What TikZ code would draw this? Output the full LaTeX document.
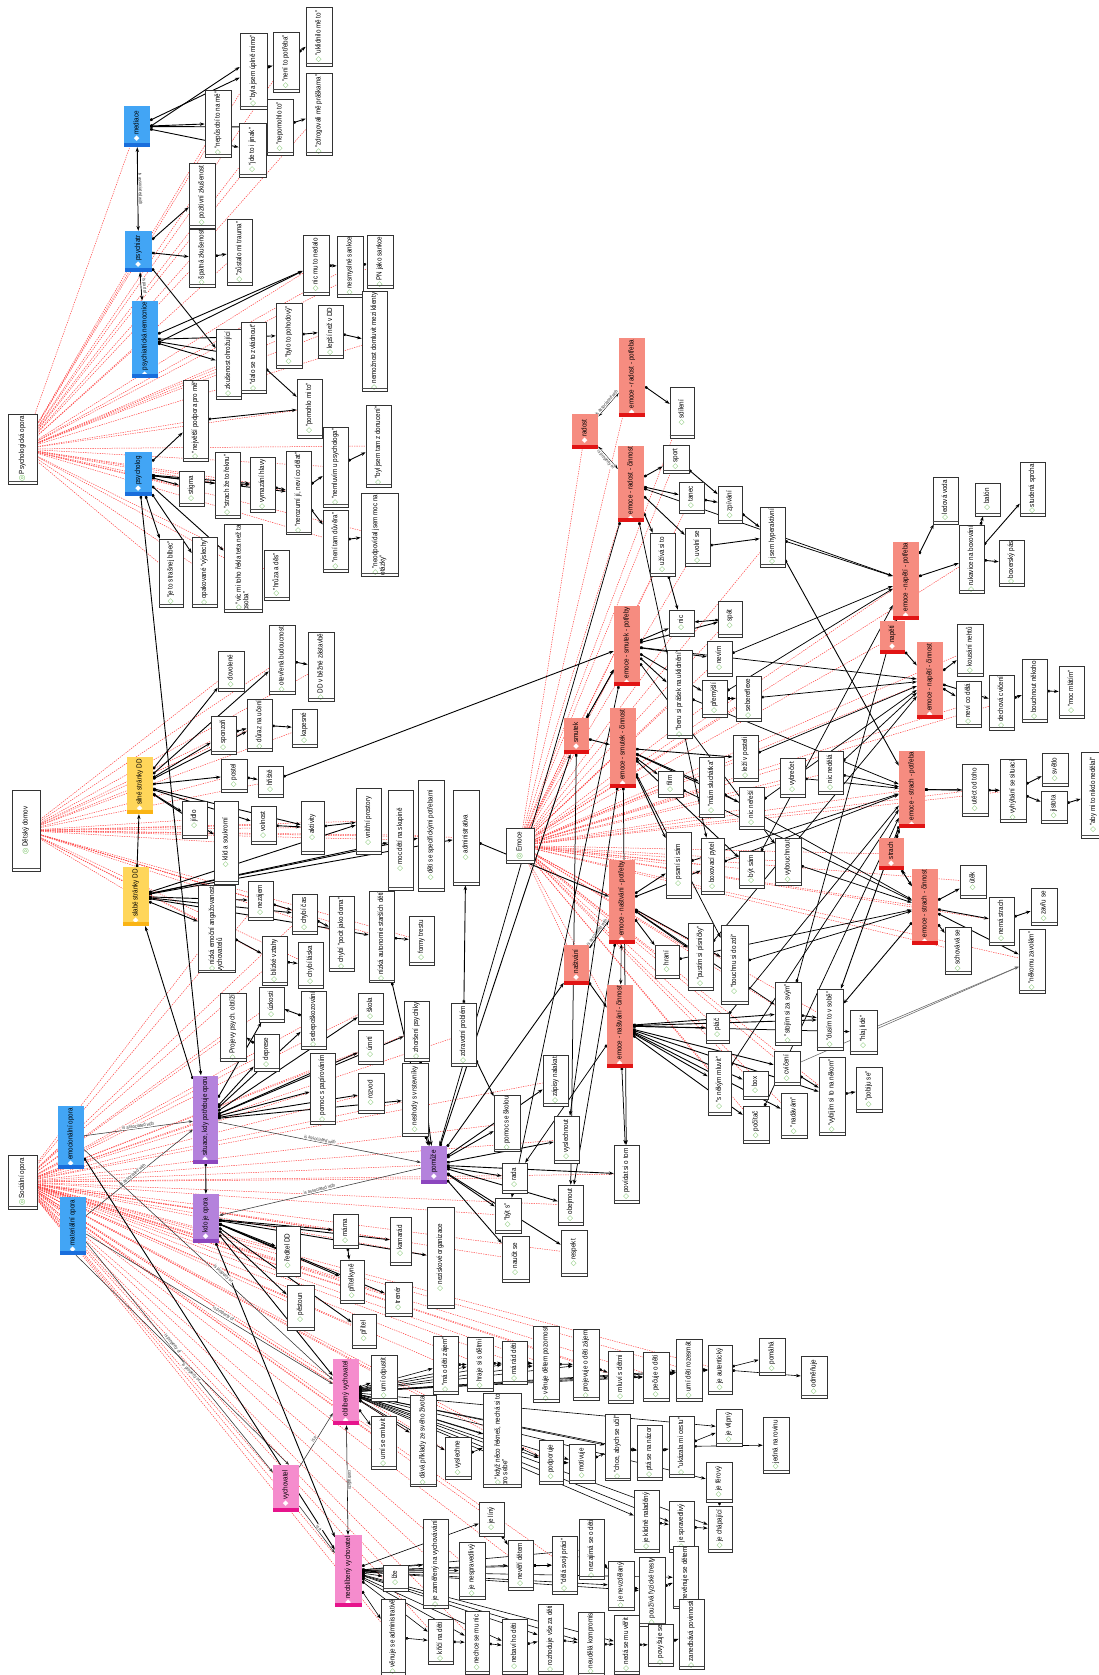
\documentclass[tikz,border=0pt]{standalone}
\usepackage{fontspec}
\setmainfont{Liberation Sans}[FakeStretch=0.85]
\newfontfamily\djv{DejaVu Sans}
\usepackage{graphicx}
\usetikzlibrary{arrows.meta}
\definecolor{dg}{RGB}{110,190,90}
\definecolor{bluF}{RGB}{66,165,245}
\definecolor{bluD}{RGB}{25,110,220}
\definecolor{yelF}{RGB}{255,214,90}
\definecolor{yelD}{RGB}{250,180,20}
\definecolor{redF}{RGB}{246,140,128}
\definecolor{redD}{RGB}{225,20,20}
\definecolor{purF}{RGB}{180,130,220}
\definecolor{purD}{RGB}{140,70,190}
\definecolor{pnkF}{RGB}{245,140,205}
\definecolor{pnkD}{RGB}{230,20,140}
\pgfdeclarelayer{back}\pgfdeclarelayer{bg}\pgfsetlayers{back,bg,main}
\renewcommand\arraystretch{0.85}
\newcommand\R[1]{\rotatebox{90}{\begin{tabular}{@{}l@{}}#1\end{tabular}}}
\newcommand\dia{{\djv\textcolor{dg}{◇}}}
\newcommand\wdia{{\djv\textcolor{white}{◆}}}
\newcommand\fdia{{\djv\textcolor{dg}{◎}}}
\newcommand\cb[6]{\node[cbx,minimum width={(#4-#2)*1pt},minimum height={(#5-#3)*1pt}] (#1) at ({(#2+#4)/2},{(#3+#5)/2}) {\R{\dia\,#6}};
  \draw[black!70,line width=0.4pt] ([yshift=3pt]#1.south west) -- ([yshift=3pt]#1.south east);}
\newcommand\fb[6]{\node[cbx,minimum width={(#4-#2)*1pt},minimum height={(#5-#3)*1pt}] (#1) at ({(#2+#4)/2},{(#3+#5)/2}) {\R{\fdia\,#6}};
  \draw[black!70,line width=0.4pt] ([yshift=3pt]#1.south west) -- ([yshift=3pt]#1.south east);}
\newcommand\kb[7]{\node[kbx,fill=#6F,minimum width={(#4-#2)*1pt},minimum height={(#5-#3)*1pt}] (#1) at ({(#2+#4)/2},{(#3+#5)/2}) {\R{\wdia\,#7}};
  \fill[#6D] (#1.south west) rectangle ([yshift=4pt]#1.south east);}
\begin{document}
\begin{tikzpicture}[x=1pt,y=-1pt,
  cbx/.style={draw=black!80,fill=white,line width=0.55pt,inner sep=1pt,font=\fontsize{7.4}{8.2}\selectfont},
  kbx/.style={draw=none,inner sep=1pt,font=\fontsize{7.4}{8.2}\selectfont},
  lk/.style={line width=0.9pt,{Square[length=2.4pt]}-{Stealth[length=4.8pt,width=3.4pt]}},
  bl/.style={line width=0.9pt,{Stealth[length=4.8pt,width=3.4pt]}-{Stealth[length=4.8pt,width=3.4pt]}},
  tl/.style={line width=0.55pt,black!80,-{Stealth[length=4pt,width=3pt]}},
  fam/.style={draw=red!75,line width=0.5pt,dash pattern=on 1.3pt off 1.1pt},
  lbl/.style={font=\fontsize{4.8}{5}\selectfont,sloped,inner sep=0.6pt,fill=white,text=black!80}]
\useasboundingbox (0,0) rectangle (1098,1675);
\begin{pgfonlayer}{back}
\fill[white] (0,0) rectangle (1098,1675);
\end{pgfonlayer}
% ---------- families
\fb{psyop}{8}{414}{37}{484}{Psychologická opora}
\fb{dd}{12}{790}{40}{871}{Dětský domov}
\fb{soc}{8}{1155}{37}{1209}{Sociální opora}
\fb{emo}{506}{828}{534}{863}{Emoce}
% ---------- blue
\kb{med}{124}{106}{150}{147}{blu}{mediace}
\kb{psy}{125}{231}{152}{272}{blu}{psychiatr}
\kb{pn}{132}{301}{158}{378}{blu}{psychiatrická nemocnice}
\kb{plog}{125}{452}{152}{496}{blu}{psycholog}
\kb{emop}{58}{1106}{84}{1169}{blu}{emocionální opora}
\kb{matop}{60}{1197}{86}{1255}{blu}{materiální opora}
% ---------- yellow
\kb{sil}{127}{757}{153}{814}{yel}{silné stránky DD}
\kb{sla}{123}{867}{149}{926}{yel}{slabé stránky DD}
% ---------- purple
\kb{sit}{193}{1076}{218}{1163}{pur}{situace, kdy potřebuje oporu}
\kb{kdo}{193}{1194}{219}{1243}{pur}{kdo je opora}
\kb{pom}{421}{1146}{447}{1184}{pur}{pomůže}
% ---------- pink
\kb{vych}{273}{1465}{299}{1512}{pnk}{vychovatel}
\kb{obl}{333}{1359}{359}{1425}{pnk}{oblíbený vychovatel}
\kb{neo}{335}{1535}{362}{1607}{pnk}{neoblíbený vychovatel}
% ---------- red
\kb{rad}{572}{414}{598}{449}{red}{radost}
\kb{rpot}{619}{338}{645}{417}{red}{emoce - radost - potřeba}
\kb{rcin}{618}{446}{644}{522}{red}{emoce - radost - činnost}
\kb{smu}{564}{718}{589}{754}{red}{smutek}
\kb{spot}{614}{606}{640}{686}{red}{emoce - smutek - potřeby}
\kb{scin}{610}{709}{636}{787}{red}{emoce - smutek - činnost}
\kb{nas}{564}{945}{589}{985}{red}{naštvání}
\kb{npot}{609}{861}{635}{943}{red}{emoce - naštvání - potřeby}
\kb{ncin}{607}{985}{633}{1067}{red}{emoce - naštvání - činnost}
\kb{nap}{880}{621}{905}{654}{red}{napětí}
\kb{tpot}{893}{542}{919}{619}{red}{emoce - napětí - potřeba}
\kb{tcin}{917}{642}{943}{719}{red}{emoce - napětí - činnost}
\kb{str}{879}{838}{904}{870}{red}{strach}
\kb{spo}{899}{751}{925}{828}{red}{emoce - strach - potřeba}
\kb{sci}{912}{869}{938}{945}{red}{emoce - strach - činnost}
% ---------- psych codes
\cb{c1}{205}{90}{231}{157}{"nepůsobí to na mě"}
\cb{c2}{240}{33}{267}{109}{"byla jsem úplně mimo"}
\cb{c3}{273}{32}{299}{92}{"není to potřeba"}
\cb{c4}{306}{7}{332}{66}{"uklidnilo mě to"}
\cb{c5}{239}{123}{266}{177}{"jde to i jinak"}
\cb{c6}{267}{99}{293}{155}{"nepomohlo to"}
\cb{c7}{306}{74}{332}{155}{"zdrogovali mě práškama"}
\cb{c8}{189}{163}{215}{228}{pozitivní zkušenost}
\cb{c9}{189}{229}{215}{287}{špatná zkušenost}
\cb{c10}{227}{219}{252}{285}{"zůstalo mi trauma"}
\cb{c11}{303}{235}{329}{295}{nic mu to nedalo}
\cb{c12}{337}{236}{363}{297}{nesmyslné sankce}
\cb{c13}{367}{237}{393}{287}{PN jako sankce}
\cb{c14}{362}{297}{387}{386}{nemožnost domluvit mezi klienty}
\cb{c15}{216}{329}{241}{399}{zkušenost ohrožující}
\cb{c16}{241}{322}{266}{393}{"dalo se to zvládnout"}
\cb{c17}{276}{303}{302}{368}{"bylo to pohodový"}
\cb{c18}{318}{305}{343}{358}{lepší než v DD}
\cb{c19}{297}{379}{322}{438}{"pomohlo mi to"}
\cb{c20}{183}{380}{208}{461}{"největší podpora pro mě"}
\cb{c21}{366}{405}{391}{487}{"byl jsem tam z donucení"}
\cb{c22}{179}{471}{204}{506}{stigma}
\cb{c23}{215}{452}{240}{518}{"strach že to řeknu"}
\cb{c24}{250}{457}{275}{512}{vymazání hlavy}
\cb{c25}{286}{452}{311}{534}{"nerozumí jí, neví co dělat"}
\cb{c26}{323}{427}{348}{507}{"nemluvím u psychologa"}
\cb{c27}{323}{510}{348}{572}{"není tam důvěra"}
\cb{c28}{361}{494}{398}{576}{"neodpovídal jsem moc na\\otázky"}
\cb{c29}{159}{539}{183}{607}{"je to strašnej blbec"}
\cb{c30}{192}{537}{217}{607}{opakované "výslechy"}
\cb{c31}{224}{525}{262}{611}{"víc mi toho řekla teta než ta\\osoba"}
\cb{c32}{264}{550}{289}{600}{"hrůza a děs"}
% ---------- DD codes
\cb{y1}{218}{651}{244}{691}{dovolené}
\cb{y2}{269}{625}{295}{694}{otevřená budoucnost}
\cb{y3}{308}{633}{334}{701}{DD v běžné zástavbě}
\cb{y4}{211}{716}{236}{754}{sponzoři}
\cb{y5}{247}{699}{272}{751}{důraz na učení}
\cb{y6}{292}{709}{317}{747}{kapesné}
\cb{y7}{221}{759}{247}{792}{postel}
\cb{y8}{258}{766}{283}{797}{hřiště}
\cb{y9}{301}{801}{324}{854}{aktivity}
\cb{y10}{182}{801}{207}{838}{jídlo}
\cb{y11}{214}{801}{238}{884}{klid a soukromí}
\cb{y12}{251}{806}{276}{844}{volnost}
\cb{y13}{198}{888}{235}{970}{nízká emoční angažovanost\\vychovatelů}
\cb{y14}{248}{881}{273}{920}{nezájem}
\cb{y15}{292}{894}{317}{934}{chybí čas}
\cb{y16}{329}{896}{354}{971}{chybí "pocit jako doma"}
\cb{y17}{262}{936}{287}{985}{blízké vztahy}
\cb{y18}{298}{942}{323}{988}{chybí láska}
\cb{y19}{356}{788}{381}{854}{vnitřní prostory}
\cb{y20}{388}{790}{413}{890}{moc dětí na skupině}
\cb{y21}{418}{780}{444}{891}{děti se specifickými potřebami}
\cb{y22}{453}{790}{479}{885}{administrativa}
\cb{y23}{369}{893}{394}{981}{nízká autonomie starších dětí}
\cb{y24}{409}{916}{434}{965}{formy trestu}
% ---------- situace / pomůže
\cb{p1}{220}{995}{246}{1060}{Projevy psych. obtíží}
\cb{p2}{259}{987}{284}{1022}{úzkosti}
\cb{p3}{254}{1034}{279}{1071}{deprese}
\cb{p4}{301}{991}{326}{1049}{sebepoškozování}
\cb{p5}{310}{1053}{335}{1124}{pomoc s papírováním}
\cb{p6}{404}{1001}{429}{1061}{zhoršení psychiky}
\cb{p7}{451}{1003}{476}{1066}{zdravotní problém}
\cb{p8}{358}{1073}{384}{1113}{rozvod}
\cb{p9}{402}{1063}{428}{1136}{neshody s vrstevníky}
\cb{p10}{358}{993}{383}{1024}{škola}
\cb{p11}{358}{1030}{383}{1064}{úmrtí}
\cb{p12}{494}{1096}{520}{1151}{pomoc se školou}
\cb{p13}{554}{1116}{579}{1163}{vyslechnout}
\cb{p14}{543}{1055}{568}{1106}{zápisy nalakat}
\cb{p15}{502}{1163}{527}{1193}{rada}
\cb{p16}{495}{1198}{521}{1233}{"být s"}
\cb{p17}{558}{1185}{583}{1225}{obejmout}
\cb{p18}{614}{1145}{639}{1203}{povídat si o tom}
\cb{p19}{502}{1236}{529}{1282}{naučit se}
\cb{p20}{561}{1230}{587}{1276}{respekt}
% ---------- kdo je opora
\cb{k1}{276}{1226}{300}{1276}{ředitel DD}
\cb{k2}{333}{1214}{358}{1248}{máma}
\cb{k3}{340}{1260}{364}{1303}{přítelkyně}
\cb{k4}{352}{1314}{376}{1348}{přítel}
\cb{k5}{287}{1285}{314}{1330}{pěstoun}
\cb{k6}{390}{1217}{411}{1265}{kamarád}
\cb{k7}{427}{1207}{454}{1308}{neziskové organizace}
\cb{k8}{385}{1282}{412}{1316}{trenér}
% ---------- oblíbený
\cb{o1}{371}{1355}{397}{1401}{umí odpustit}
\cb{o2}{371}{1416}{396}{1469}{umí se omluvit}
\cb{o3}{410}{1397}{436}{1485}{dává příklady ze svého života}
\cb{o4}{433}{1336}{458}{1394}{"má o děti zájem"}
\cb{o5}{467}{1337}{493}{1391}{hraje si s dětmi}
\cb{o6}{502}{1341}{527}{1384}{má rád děti}
\cb{o7}{445}{1437}{471}{1479}{vyslechne}
\cb{o8}{483}{1395}{521}{1485}{"když něco řekneš, nechá si to\\pro sebe"}
\cb{o9}{533}{1326}{559}{1402}{věnuje dětem pozornost}
\cb{o10}{539}{1440}{563}{1484}{podporuje}
\cb{o11}{569}{1444}{595}{1483}{motivuje}
\cb{o12}{573}{1329}{599}{1400}{projevuje o děti zájem}
\cb{o13}{608}{1351}{633}{1403}{mluví s dětmi}
\cb{o14}{605}{1415}{630}{1480}{"chce, abych se učil"}
\cb{o15}{643}{1352}{669}{1401}{pečuje o děti}
\cb{o16}{637}{1425}{662}{1480}{ptá se na názor}
\cb{o17}{676}{1339}{702}{1401}{umí děti rozesmát}
\cb{o18}{669}{1416}{694}{1477}{"ukázala mi cestu"}
\cb{o19}{708}{1345}{732}{1394}{je autentický}
\cb{o20}{716}{1409}{742}{1446}{je vtipný}
\cb{o21}{706}{1462}{732}{1502}{je férový}
\cb{o22}{708}{1506}{732}{1552}{je chápající}
\cb{o23}{634}{1490}{659}{1552}{je klidně naladěný}
\cb{o24}{669}{1501}{694}{1552}{je spravedlivý}
\cb{o25}{759}{1338}{785}{1375}{pomáhá}
\cb{o26}{801}{1356}{827}{1398}{odměňuje}
\cb{o27}{763}{1417}{789}{1473}{jedná na rovinu}
% ---------- neoblíbený
\cb{n1}{383}{1565}{408}{1591}{lže}
\cb{n2}{423}{1524}{448}{1604}{je zaměřený na vychovávání}
\cb{n3}{459}{1542}{485}{1599}{je nespravedlivý}
\cb{n4}{479}{1502}{504}{1536}{je líný}
\cb{n5}{508}{1540}{533}{1590}{nevěří dětem}
\cb{n6}{552}{1536}{577}{1594}{"dělá svoji práci"}
\cb{n7}{579}{1519}{604}{1579}{nezajímá se o děti}
\cb{n8}{608}{1561}{634}{1610}{je nevzdělaný}
\cb{n9}{639}{1558}{665}{1625}{používá fyzické tresty}
\cb{n10}{673}{1555}{698}{1600}{nevěnuje se dětem}
\cb{n11}{679}{1603}{704}{1666}{zanedbává povinnosti}
\cb{n12}{381}{1600}{405}{1674}{věnuje se administrativě}
\cb{n13}{428}{1619}{453}{1664}{křičí na děti}
\cb{n14}{465}{1611}{489}{1674}{nechce se mu nic}
\cb{n15}{502}{1619}{527}{1674}{nebaví ho děti}
\cb{n16}{538}{1604}{563}{1674}{rozhoduje vše za děti}
\cb{n17}{578}{1614}{604}{1674}{neudělá kompromis}
\cb{n18}{614}{1615}{639}{1674}{nedá se mu věřit}
\cb{n19}{648}{1626}{673}{1664}{povyšuje se}
% ---------- emotion codes
\cb{r1}{670}{387}{694}{438}{sdílení}
\cb{r2}{663}{445}{689}{473}{sport}
\cb{r3}{679}{482}{704}{513}{tanec}
\cb{r4}{718}{486}{742}{523}{zpívání}
\cb{r5}{650}{533}{675}{576}{užívá si to}
\cb{r6}{685}{528}{710}{566}{uvolní se}
\cb{r7}{760}{507}{785}{567}{jsem hyperaktivní}
\cb{r8}{669}{610}{694}{636}{nic}
\cb{r9}{718}{601}{742}{637}{spát}
\cb{r10}{707}{641}{732}{676}{nevím}
\cb{r11}{667}{655}{692}{733}{"beru si prášek na uklidnění"}
\cb{r12}{702}{680}{727}{717}{přemýšlí}
\cb{r13}{736}{676}{761}{721}{sebereflexe}
\cb{r14}{658}{771}{683}{797}{film}
\cb{r15}{699}{757}{724}{817}{"mám sluchátka"}
\cb{r16}{733}{735}{758}{781}{leží v posteli}
\cb{r17}{780}{758}{805}{797}{vybrečet}
\cb{r18}{818}{751}{843}{794}{nic nedělá}
\cb{r19}{739}{787}{764}{829}{nic neřeší}
\cb{r20}{666}{832}{691}{898}{psaní si sám}
\cb{r21}{701}{838}{724}{894}{boxovací pytel}
\cb{r22}{739}{851}{764}{888}{být sám}
\cb{r23}{775}{838}{801}{885}{vybouchnout}
\cb{r24}{655}{945}{679}{978}{hraní}
\cb{r25}{688}{923}{713}{990}{"pustím si písničky"}
\cb{r26}{721}{925}{748}{1004}{"bouchnu si do zdi"}
\cb{r27}{706}{1013}{729}{1043}{pláč}
\cb{r28}{708}{1051}{731}{1115}{"s někým mluvit"}
\cb{r29}{775}{982}{801}{1045}{"stojím si za svým"}
\cb{r30}{817}{989}{843}{1050}{"dusím to v sobě"}
\cb{r31}{850}{1010}{877}{1054}{"hlaj lidé"}
\cb{r32}{774}{1051}{800}{1085}{cvičení}
\cb{r33}{743}{1071}{768}{1099}{box}
\cb{r34}{781}{1093}{807}{1138}{"nadávám"}
\cb{r35}{819}{1057}{845}{1135}{"vybíjím si to na někom"}
\cb{r36}{856}{1067}{882}{1112}{"pobiju se"}
\cb{r37}{743}{1106}{769}{1143}{počítač}
\cb{r38}{933}{477}{958}{524}{ledová voda}
\cb{r39}{975}{483}{1000}{516}{balón}
\cb{r40}{1020}{462}{1045}{516}{studená sprcha}
\cb{r41}{959}{525}{984}{593}{rukavice na boxování}
\cb{r42}{999}{540}{1024}{586}{boxerský pás}
\cb{r43}{957}{624}{983}{676}{kousání nehtů}
\cb{r44}{956}{681}{981}{727}{neví co dělá}
\cb{r45}{989}{675}{1014}{730}{dechová cvičení}
\cb{r46}{1022}{659}{1047}{722}{bouchnout někoho}
\cb{r47}{1059}{666}{1084}{718}{"moc mlátím"}
\cb{r48}{962}{764}{988}{816}{utéct od toho}
\cb{r49}{1000}{759}{1026}{822}{vyhýbání se situaci}
\cb{r50}{1042}{753}{1068}{786}{světlo}
\cb{r51}{1041}{791}{1067}{823}{jistota}
\cb{r52}{1081}{752}{1106}{838}{"aby mi to nikdo nedělal"}
\cb{r53}{960}{865}{986}{898}{útěk}
\cb{r54}{989}{897}{1014}{945}{nemá strach}
\cb{r55}{1031}{888}{1057}{925}{zavřu se}
\cb{r56}{945}{927}{971}{974}{schovává se}
\cb{r57}{1019}{929}{1045}{993}{"někomu zavolám"}
% ================= connectors (background)
\begin{pgfonlayer}{bg}
\foreach \t in {med,psy,pn,plog,c1,c2,c3,c5,c6,c7,c8,c9,c10,c11,c12,c13,c14,c15,c16,c17,c18,c19,c20,c21,c22,c23,c24,c25,c26,c27,c28,c29,c30,c31,c32}
  \draw[fam] (psyop) -- (\t);
\foreach \t in {sil,sla,y1,y2,y3,y4,y5,y6,y7,y8,y9,y10,y11,y12,y13,y14,y15,y16,y17,y18,y19,y20,y21,y22,y23,y24}
  \draw[fam] (dd) -- (\t);
\foreach \t in {emop,matop,sit,kdo,pom,vych,obl,neo,p1,p2,p3,p4,p5,p6,p7,p8,p9,p10,p11,p12,p13,p14,p15,p16,p17,p18,p19,p20,k1,k2,k3,k4,k5,k6,k7,k8,o1,o2,o3,o4,o5,o6,o7,o8,o9,o10,o12,o13,o15,o17,o19,n1,n2,n3,n4,n5,n6,n12,n13,n14,y13,y14,y15,y17}
  \draw[fam] (soc) -- (\t);
\foreach \t in {rad,smu,nas,nap,str,rpot,rcin,spot,scin,npot,ncin,tpot,tcin,spo,sci,r1,r2,r3,r5,r6,r8,r9,r10,r11,r12,r14,r15,r20,r21,r24,r25,r26,r27,r28,r29,r30,r32,r33,r34,r35,r37,r41,r43,r44,r45,r48,r49,r53,r54,r56,r57,r7,r13,r16,r17,r18,r19,r22,r23}
  \draw[fam] (emo) -- (\t);
% psych
\foreach \a/\b in {med/c1,med/c2,med/c5,med/c6,c2/c3,c3/c4,c6/c7,psy/c8,psy/c9,c9/c10,psy/c15,pn/c11,pn/c15,pn/c16,pn/c17,c11/c12,c12/c13,c17/c18,c18/c14,c16/c19,plog/c20,plog/c22,plog/c23,plog/c24,plog/c25,plog/c29,plog/c30,plog/c31,c23/c24,c24/c25,c25/c26,c25/c27,c26/c21,c27/c28,c20/c19,plog/sit}
  \draw[lk] (\a) -- (\b);
\draw[lk] (med.east) -- ([yshift=4pt]c2.west);
\draw[lk] ([yshift=-3pt]pn.east) -- ([yshift=-6pt]c11.west);
\draw[bl] (med) -- node[lbl,above] {is associated with} (psy);
\draw[bl] (psy) -- node[lbl,above] {is part of} (pn);
% DD
\foreach \a/\b in {sil/y1,sil/y2,sil/y4,sil/y5,sil/y7,sil/y10,sil/y11,sil/y12,sil/y9,y2/y3,y5/y6,y7/y8,y4/y5,y12/y9,y8/spot,sla/sil,sla/y13,sla/y14,sla/y15,sla/y19,sla/y20,sla/y21,sla/y22,sla/y23,y13/y17,y17/y18,y15/y16,y14/y15,y23/y24,y22/npot,y9/y19}
  \draw[lk] (\a) -- (\b);
% situace / kdo / pomůže
\foreach \a/\b in {sit/kdo,sit/p2,sit/p3,sit/p4,sit/p5,sit/p6,sit/p8,sit/p9,sit/p10,sit/p11,sit/sla,p4/p2,p3/p1,kdo/k1,kdo/k2,kdo/k3,kdo/k4,kdo/k5,kdo/k6,kdo/k7,kdo/k8,kdo/obl,kdo/neo,pom/p12,pom/p15,pom/p16,pom/p17,pom/p18,pom/p19,pom/p13,pom/p14,pom/p20,p7/p12,p7/y22,pom/nas,pom/smu,p6/pom,p9/pom,y23/pom,k2/k3}
  \draw[lk] (\a) -- (\b);
\draw[tl] (emop) -- node[lbl,above] {is associated with} (sit);
\draw[tl] (matop) -- node[lbl,above,pos=0.45] {is associated with} (sit);
\draw[tl] (sit) -- node[lbl,above,pos=0.5] {is associated with} (pom);
\draw[tl] (pom) -- node[lbl,above,pos=0.5] {is associated with} (kdo);
% pink
\draw[tl] (matop) -- node[lbl,above,pos=0.45] {is property of} (vych);
\draw[tl] ([xshift=3pt]matop.south) -- node[lbl,below,pos=0.55] {is property of} ([xshift=3pt]vych.north);
\draw[tl] (matop) -- node[lbl,above,pos=0.55] {is property of} (obl);
\draw[tl] (emop) -- node[lbl,above,pos=0.55] {is property of} (obl);
\draw[lk] (emop) -- (neo);
\draw[tl] (vych) -- node[lbl,above] {is a} (obl);
\draw[tl] (vych) -- node[lbl,above] {is a} (neo);
\draw[bl,line width=0.55pt] (obl) -- node[lbl,above] {contradicts} (neo);
\foreach \t in {o1,o2,o3,o4,o5,o6,o7,o8,o9,o10,o11,o12,o13,o14,o15,o16,o17,o19,o23,o24,o20,o21,o22}
  \draw[lk,line width=0.6pt] (obl) -- (\t);
\foreach \t in {n1,n2,n3,n4,n5,n6,n7,n8,n9,n12,n13,n14,n15,n16,n17,n18,n10}
  \draw[lk,line width=0.6pt] (neo) -- (\t);
\foreach \a/\b in {o4/o5,o5/o6,o6/o9,o9/o12,o12/o13,o13/o15,o15/o17,o17/o19,o19/o25,o19/o26,o18/o27,o7/o8,o8/o10,o10/o11,o11/o14,o14/o16,o16/o18,o18/o20,o23/o24,o24/o22,o21/o22,n4/n5,n5/n6,n6/n7,n7/n8,n8/n9,n9/n10,n12/n13,n13/n14,n14/n15,n15/n16,n16/n17,n17/n18,n18/n19,n19/n11}
  \draw[lk,line width=0.6pt] (\a) -- (\b);
% red
\foreach \a/\b in {rpot/r1,rcin/r2,rcin/r3,rcin/r5,rcin/r6,r3/r4,r2/r4,r4/r7,r7/spo,r5/r8,r6/r7,smu/spot,smu/scin,spot/r8,spot/r9,spot/r10,spot/r11,spot/r12,r9/r8,r12/r13,scin/r14,scin/r15,scin/r16,scin/r19,scin/r20,scin/r22,nas/npot,nas/ncin,npot/r20,npot/r24,npot/r25,npot/r26,npot/r21,ncin/r27,ncin/r28,ncin/r29,ncin/r30,ncin/r32,ncin/r33,ncin/r34,ncin/r35,ncin/r37,r29/r30,r32/r35,r35/r36,nap/tpot,nap/tcin,tpot/r38,tpot/r41,r41/r39,r41/r40,r41/r42,tcin/r43,tcin/r44,tcin/r45,r45/r46,r46/r47,str/spo,str/sci,spo/r48,spo/r49,r49/r50,r49/r51,r51/r52,r48/r49,sci/r53,sci/r54,sci/r56,sci/r57,r54/r55,sci/r30,spo/r30}
  \draw[lk] (\a) -- (\b);
\draw[bl,line width=0.55pt] (rad) -- node[lbl,above] {is associated with} (rpot);
\draw[bl,line width=0.55pt] (rad) -- node[lbl,below] {is property of} (rcin);
\draw[bl,line width=0.55pt] (smu) -- (spot);
\draw[bl,line width=0.55pt] (nas) -- node[lbl,above] {is associated with} (npot);
\draw[bl,line width=0.55pt] (npot) -- (ncin);
\draw[bl,line width=0.55pt] (nap) -- (tpot);
\draw[bl,line width=0.55pt] (str) -- (sci);
% cross links
\foreach \a/\b in {r13/tcin,r12/tpot,r16/tcin,r18/spo,r18/tcin,r17/spo,r22/tpot,r23/sci,r19/tcin,r26/sci,r25/tcin,r21/spo,r7/tpot,r11/spo,r10/tpot,r15/sci,r20/spo,r24/sci,r27/spo,r28/spo,r29/tpot,r37/spo,r14/sci,ncin/p18,npot/p17,scin/p13,spot/p16,rcin/pom,ncin/p15,scin/p18,rcin/r21,spot/r23,smu/p17,npot/r29,scin/r26,spot/tcin,rcin/tpot,ncin/r31}
  \draw[lk,line width=0.75pt] (\a) -- (\b);
\draw[tl,black!60] (r31) -- (r57);
\draw[tl,black!60] (r32) -- (r57);
\end{pgfonlayer}
\end{tikzpicture}
\end{document}
